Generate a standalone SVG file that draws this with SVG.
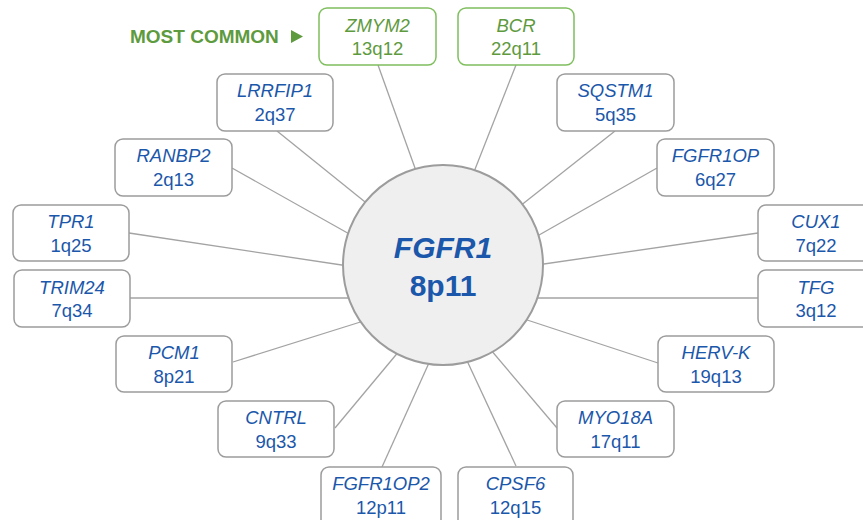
<svg xmlns="http://www.w3.org/2000/svg" width="863" height="520" viewBox="0 0 863 520">
<style>
.box{fill:#fff;stroke:#9c9c9c;stroke-width:1.5}
.gbox{fill:#fff;stroke:#7fbf5e;stroke-width:1.5}
.nm{font-family:"Liberation Sans",Arial,sans-serif;font-style:italic;font-size:18.5px;fill:#1b57aa;text-anchor:middle}
.lc{font-family:"Liberation Sans",Arial,sans-serif;font-size:18.5px;fill:#1b57aa;text-anchor:middle}
.gn{fill:#5e9a3e}
.con line{stroke:#a3a3a3;stroke-width:1.3}
</style>
<rect width="863" height="520" fill="#fff"/>
<g id="connectors" class="con">
<line x1="378" y1="65" x2="420" y2="182"/>
<line x1="516" y1="65" x2="470" y2="182"/>
<line x1="277" y1="131" x2="380" y2="214"/>
<line x1="615" y1="131" x2="510" y2="214"/>
<line x1="232" y1="168" x2="360" y2="240"/>
<line x1="657" y1="168" x2="525" y2="243"/>
<line x1="129" y1="233" x2="355" y2="267"/>
<line x1="130" y1="298" x2="355" y2="298"/>
<line x1="758" y1="233" x2="530" y2="266"/>
<line x1="758" y1="298" x2="530" y2="298"/>
<line x1="233" y1="362" x2="370" y2="319"/>
<line x1="335" y1="428" x2="405" y2="344"/>
<line x1="382" y1="467" x2="433" y2="354"/>
<line x1="658" y1="363" x2="515" y2="316"/>
<line x1="557" y1="428" x2="485" y2="343"/>
<line x1="516" y1="466" x2="462" y2="350"/>
</g>
<g id="FGFR1">
<circle cx="443" cy="265" r="100" fill="#efeff0" stroke="#9c9c9c" stroke-width="2"/>
<text x="443" y="258" font-family="'Liberation Sans',Arial,sans-serif" font-size="30" font-weight="bold" font-style="italic" fill="#1b57aa" text-anchor="middle">FGFR1</text>
<text x="443" y="296" font-family="'Liberation Sans',Arial,sans-serif" font-size="30" font-weight="bold" fill="#1b57aa" text-anchor="middle">8p11</text>
</g>
<g id="most-common">
<text x="130" y="43" font-family="'Liberation Sans',Arial,sans-serif" font-size="19" font-weight="bold" fill="#5e9a3e">MOST COMMON</text>
<polygon points="291,30 291,43 303,36.5" fill="#5e9a3e"/>
</g>
<g id="ZMYM2"><rect class="gbox" x="319" y="8" width="117" height="57" rx="8"/><text class="nm gn" x="377.5" y="32">ZMYM2</text><text class="lc gn" x="377.5" y="55">13q12</text></g>
<g id="BCR"><rect class="gbox" x="458" y="8" width="116" height="57" rx="8"/><text class="nm gn" x="516" y="32">BCR</text><text class="lc gn" x="516" y="55">22q11</text></g>
<g id="LRRFIP1"><rect class="box" x="217" y="74" width="116" height="57" rx="8"/><text class="nm" x="275" y="97">LRRFIP1</text><text class="lc" x="275" y="121">2q37</text></g>
<g id="SQSTM1"><rect class="box" x="557" y="74" width="117" height="57" rx="8"/><text class="nm" x="615.5" y="97">SQSTM1</text><text class="lc" x="615.5" y="121">5q35</text></g>
<g id="RANBP2"><rect class="box" x="115" y="139" width="117" height="57" rx="8"/><text class="nm" x="173.5" y="162">RANBP2</text><text class="lc" x="173.5" y="186">2q13</text></g>
<g id="FGFR1OP"><rect class="box" x="657" y="139" width="117" height="57" rx="8"/><text class="nm" x="715.5" y="162">FGFR1OP</text><text class="lc" x="715.5" y="186">6q27</text></g>
<g id="TPR1"><rect class="box" x="13" y="205" width="116" height="56" rx="8"/><text class="nm" x="71" y="228">TPR1</text><text class="lc" x="71" y="252">1q25</text></g>
<g id="CUX1"><rect class="box" x="758" y="205" width="116" height="56" rx="8"/><text class="nm" x="816" y="228">CUX1</text><text class="lc" x="816" y="252">7q22</text></g>
<g id="TRIM24"><rect class="box" x="14" y="270" width="116" height="57" rx="8"/><text class="nm" x="72" y="294">TRIM24</text><text class="lc" x="72" y="317">7q34</text></g>
<g id="TFG"><rect class="box" x="758" y="270" width="116" height="57" rx="8"/><text class="nm" x="816" y="294">TFG</text><text class="lc" x="816" y="317">3q12</text></g>
<g id="PCM1"><rect class="box" x="116" y="336" width="116" height="56" rx="8"/><text class="nm" x="174" y="359">PCM1</text><text class="lc" x="174" y="383">8p21</text></g>
<g id="HERV-K"><rect class="box" x="658" y="336" width="116" height="56" rx="8"/><text class="nm" x="716" y="359">HERV-K</text><text class="lc" x="716" y="383">19q13</text></g>
<g id="CNTRL"><rect class="box" x="218" y="401" width="116" height="56" rx="8"/><text class="nm" x="276" y="424">CNTRL</text><text class="lc" x="276" y="448">9q33</text></g>
<g id="MYO18A"><rect class="box" x="557" y="401" width="117" height="56" rx="8"/><text class="nm" x="615.5" y="424">MYO18A</text><text class="lc" x="615.5" y="448">17q11</text></g>
<g id="FGFR1OP2"><rect class="box" x="321" y="467" width="120" height="60" rx="8"/><text class="nm" x="381" y="490">FGFR1OP2</text><text class="lc" x="381" y="514">12p11</text></g>
<g id="CPSF6"><rect class="box" x="458" y="467" width="115" height="60" rx="8"/><text class="nm" x="515.5" y="490">CPSF6</text><text class="lc" x="515.5" y="514">12q15</text></g>
</svg>
